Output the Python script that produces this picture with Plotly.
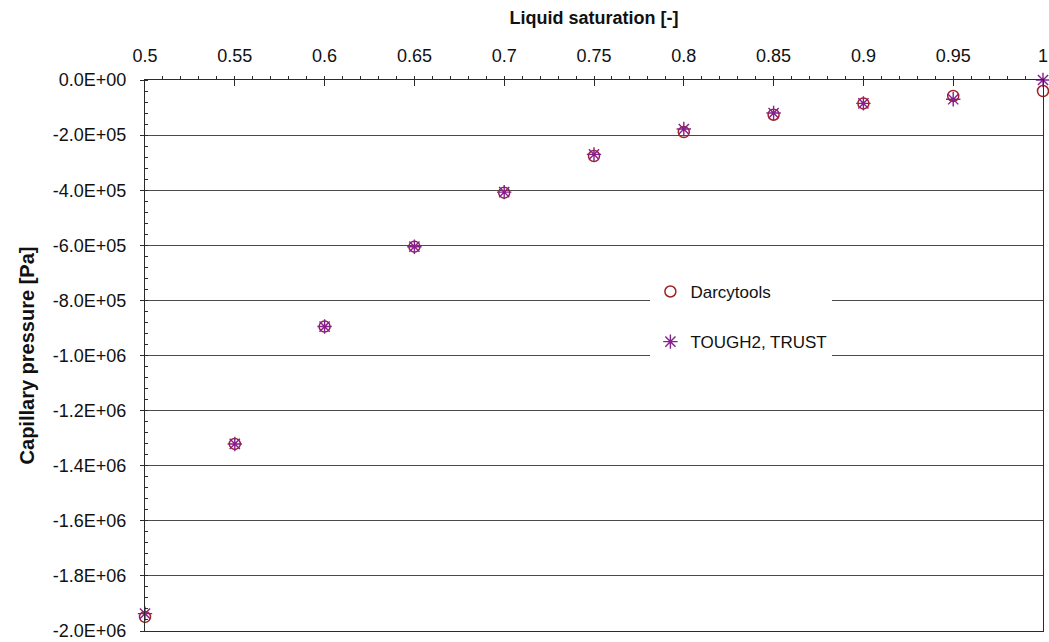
import plotly.graph_objects as go

# Liquid saturation values shared by both data sets
saturation = [0.5, 0.55, 0.6, 0.65, 0.7, 0.75, 0.8, 0.85, 0.9, 0.95, 1.0]

# Capillary pressure [Pa]
darcytools_pc = [-1.949e6, -1.321e6, -8.95e5, -6.05e5, -4.09e5, -2.76e5,
                 -1.89e5, -1.26e5, -8.5e4, -5.8e4, -4.0e4]
tough2_trust_pc = [-1.937e6, -1.321e6, -8.95e5, -6.05e5, -4.07e5, -2.70e5,
                   -1.78e5, -1.20e5, -8.5e4, -7.0e4, 0.0]

x_ticks = [0.5, 0.55, 0.6, 0.65, 0.7, 0.75, 0.8, 0.85, 0.9, 0.95, 1.0]
y_ticks = [0.0, -2e5, -4e5, -6e5, -8e5, -1.0e6, -1.2e6, -1.4e6, -1.6e6, -1.8e6, -2.0e6]
y_tick_text = [f"{v:.1E}" if v != 0 else "0.0E+00" for v in y_ticks]

FONT = "Liberation Sans, Arial, sans-serif"
AXIS_COLOR = "#2b2b2b"
GRID_COLOR = "#4a4a4a"
TICK_SIZE = 18

fig = go.Figure()

fig.add_trace(go.Scatter(
    x=saturation, y=darcytools_pc, mode="markers", name="Darcytools",
    legendgroup="a",
    marker=dict(symbol="circle-open", size=11, color="#9e2424",
                line=dict(width=1.5, color="#9e2424")),
    cliponaxis=False,
))
fig.add_trace(go.Scatter(
    x=saturation, y=tough2_trust_pc, mode="markers", name="TOUGH2, TRUST",
    legendgroup="b",
    marker=dict(symbol="asterisk-open", size=12, color="#85208f",
                line=dict(width=1.4, color="#85208f")),
    cliponaxis=False,
))

fig.update_layout(
    width=1049, height=642,
    margin=dict(l=145, r=6, t=80, b=11),
    paper_bgcolor="white", plot_bgcolor="white",
    font=dict(family=FONT, size=TICK_SIZE, color="#111111"),
    showlegend=True,
    legend=dict(
        x=0.5628, y=0.648, xanchor="left", yanchor="top",
        bgcolor="white", borderwidth=0,
        tracegroupgap=25, entrywidth=175,
        font=dict(family=FONT, size=17, color="#111111"),
    ),
    xaxis=dict(
        side="top", range=[0.5, 1.0], automargin=False,
        tickvals=x_ticks,
        ticks="inside", ticklen=6, tickwidth=1, tickcolor=AXIS_COLOR,
        ticklabelstandoff=10, ticklabeloverflow="allow",
        tickfont=dict(size=TICK_SIZE),
        minor=dict(dtick=0.01, ticks="outside", ticklen=3, tickcolor=AXIS_COLOR,
                   showgrid=False),
        showline=True, linecolor=AXIS_COLOR, linewidth=1.2, mirror=True,
        showgrid=False, zeroline=False,
        title=dict(text="<b>Liquid saturation [-]</b>",
                   font=dict(family=FONT, size=18, color="#111111"),
                   standoff=16),
    ),
    yaxis=dict(
        range=[-2.0e6, 0.0], automargin=False,
        tickvals=y_ticks, ticktext=y_tick_text,
        ticks="outside", ticklen=4, tickwidth=1, tickcolor=AXIS_COLOR,
        ticklabelstandoff=10, ticklabeloverflow="allow",
        tickfont=dict(size=TICK_SIZE),
        minor=dict(dtick=4e4, ticks="inside", ticklen=3, tickcolor=AXIS_COLOR,
                   showgrid=False),
        showline=True, linecolor=AXIS_COLOR, linewidth=1.2, mirror=True,
        showgrid=True, gridcolor=GRID_COLOR, gridwidth=1,
        zeroline=False,
        title=dict(text="<b>Capillary pressure [Pa]</b>",
                   font=dict(family=FONT, size=20, color="#111111"),
                   standoff=12),
    ),
)

fig.write_html("out.html")
